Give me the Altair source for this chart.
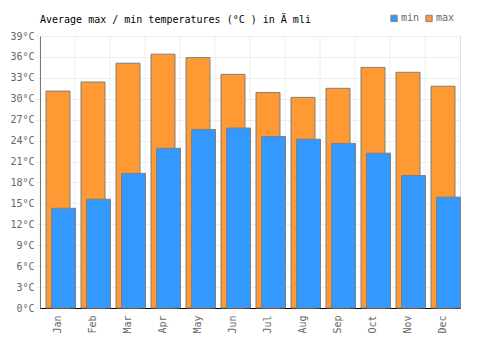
import altair as alt
import pandas as pd

months = ["Jan", "Feb", "Mar", "Apr", "May", "Jun", "Jul", "Aug", "Sep", "Oct", "Nov", "Dec"]
max_temps = [31.1, 32.4, 35.1, 36.4, 35.9, 33.5, 30.9, 30.2, 31.5, 34.5, 33.8, 31.8]
min_temps = [14.3, 15.6, 19.3, 22.9, 25.6, 25.8, 24.6, 24.2, 23.6, 22.2, 19.0, 15.9]
title_text = ["Average max / min temperatures (°C ) in Ä mli"]

df_max = pd.DataFrame({"month": months, "temp": max_temps, "series": "max"})
df_min = pd.DataFrame({"month": months, "temp": min_temps, "series": "min"})
df_grid = pd.DataFrame({"month": months})
df_title = pd.DataFrame({"t": title_text})

FONT = "DejaVu Sans Mono"
FS = 10

xscale = alt.Scale(domain=months, paddingInner=0, paddingOuter=0)
x = alt.X("month:N", sort=months, title=None, scale=xscale,
          axis=alt.Axis(labelAngle=270, labelFont=FONT, labelFontSize=FS, labelColor="#666666",
                        domainColor="black", domainWidth=1, ticks=False, grid=False,
                        labelPadding=7, labelAlign="right", labelBaseline="middle"))
y = alt.Y("temp:Q", title=None,
          scale=alt.Scale(domain=[0, 39], nice=False),
          axis=alt.Axis(values=list(range(0, 40, 3)), labelExpr="datum.value + '°C'",
                        labelFont=FONT, labelFontSize=FS, labelColor="#666666",
                        domainColor="black", domainWidth=1, gridColor="#eeeeee",
                        tickColor="#eeeeee", tickSize=5, labelPadding=1))
color = alt.Color("series:N",
                  scale=alt.Scale(domain=["min", "max"], range=["#3399ff", "#ff9933"]),
                  legend=alt.Legend(title=None, orient="none", legendX=349, legendY=-23,
                                    direction="horizontal", symbolType="square", symbolSize=40,
                                    symbolStrokeColor="#808080", symbolStrokeWidth=1,
                                    labelFont=FONT, labelFontSize=FS, labelColor="#666666",
                                    columnPadding=3, labelOffset=2))

grid = alt.Chart(df_grid).mark_rule(color="#eeeeee", strokeWidth=1).encode(
    x=alt.X("month:N", sort=months, bandPosition=0, scale=xscale),
    y=alt.value(0), y2=alt.value(272))

title = alt.Chart(df_title).mark_text(font=FONT, fontSize=FS, color="black", align="left",
                                      baseline="alphabetic").encode(
    text="t:N", x=alt.value(0), y=alt.value(-13))

bars_max = alt.Chart(df_max).mark_bar(width=24, xOffset=0.5, stroke="#808080", strokeWidth=1).encode(
    x=x, y=y, color=color)
bars_min = alt.Chart(df_min).mark_bar(width=24, xOffset=6, stroke="#808080", strokeWidth=1).encode(
    x=x, y=y, color=color)

chart = alt.layer(grid, bars_max, bars_min, title).properties(
    width=420, height=272,
    autosize=alt.AutoSizeParams(type="none"),
    padding={"left": 40, "top": 36, "right": 40, "bottom": 42},
).configure_view(stroke="#eeeeee").configure(background="white")

chart.save("out.html", embed_options={"renderer": "svg", "actions": False})
